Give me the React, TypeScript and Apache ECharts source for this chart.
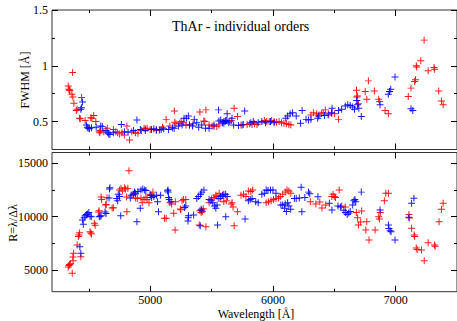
import React, { useEffect, useRef } from "react";
import * as echarts from "echarts";

// ---- data (wavelength [Å], value) ----
const fwhmRed: number[][] = [
  [4332,0.82],[4338,0.79],[4342,0.78],[4346,0.78],[4362,0.745],[4368,0.94],[4370,0.72],[4378,0.665],[4398,0.60],[4404,0.61],
  [4425,0.53],[4430,0.525],[4441,0.715],[4470,0.51],[4516,0.535],[4525,0.53],[4540,0.555],[4557,0.50],[4585,0.41],[4590,0.40],
  [4596,0.42],[4622,0.41],[4650,0.44],[4700,0.43],[4720,0.41],[4735,0.40],[4751,0.39],[4770,0.40],[4789,0.38],[4810,0.46],
  [4832,0.335],[4850,0.41],[4880,0.40],[4900,0.395],[4930,0.42],[4950,0.44],[4960,0.435],[4975,0.44],[5000,0.43],[5050,0.42],
  [5100,0.45],[5130,0.52],[5160,0.46],[5197,0.595],[5200,0.495],[5210,0.48],[5240,0.485],[5252,0.50],[5270,0.49],[5292,0.47],
  [5320,0.47],[5350,0.48],[5405,0.585],[5437,0.505],[5445,0.50],[5454,0.605],[5480,0.47],[5505,0.46],[5520,0.455],[5543,0.455],
  [5560,0.47],[5600,0.50],[5615,0.51],[5627,0.505],[5645,0.50],[5660,0.51],[5684,0.62],[5711,0.545],[5740,0.47],[5760,0.475],
  [5790,0.475],[5810,0.48],[5830,0.475],[5850,0.48],[5870,0.475],[5930,0.51],[5950,0.50],[5970,0.50],[5990,0.51],[6010,0.50],
  [6030,0.495],[6050,0.50],[6070,0.49],[6090,0.485],[6110,0.48],[6130,0.475],[6146,0.47],[6310,0.56],[6330,0.58],[6357,0.57],
  [6375,0.56],[6395,0.575],[6410,0.58],[6427,0.605],[6455,0.57],[6480,0.575],[6503,0.57],[6535,0.52],[6681,0.78],[6683,0.72],
  [6690,0.73],[6697,0.66],[6752,0.77],[6765,0.70],[6778,0.865],[6827,0.775],[6862,0.70],[6870,0.68],[6914,0.60],[6941,0.57],
  [7103,0.725],[7125,0.80],[7155,0.86],[7162,0.875],[7168,1.0],[7172,0.99],[7205,1.045],[7232,1.23],[7265,0.955],[7313,0.985],
  [7318,0.97],[7351,0.775],[7373,0.685],[7387,0.65]
];

const fwhmBlue: number[][] = [
  [4435,0.61],[4440,0.625],[4449,0.675],[4480,0.47],[4488,0.45],[4495,0.44],[4505,0.435],[4522,0.445],[4560,0.45],[4597,0.46],
  [4610,0.455],[4640,0.42],[4655,0.40],[4662,0.39],[4672,0.385],[4700,0.40],[4765,0.475],[4790,0.41],[4820,0.405],[4865,0.42],
  [4892,0.515],[4920,0.43],[4960,0.42],[5011,0.43],[5030,0.435],[5050,0.43],[5075,0.425],[5089,0.43],[5110,0.435],[5150,0.43],
  [5181,0.445],[5195,0.44],[5230,0.46],[5260,0.47],[5276,0.53],[5295,0.53],[5311,0.55],[5320,0.47],[5345,0.46],[5359,0.52],
  [5380,0.49],[5395,0.45],[5420,0.47],[5450,0.44],[5480,0.44],[5520,0.47],[5557,0.605],[5560,0.505],[5575,0.515],[5590,0.49],
  [5600,0.485],[5610,0.50],[5620,0.51],[5627,0.57],[5640,0.49],[5667,0.53],[5680,0.47],[5720,0.465],[5750,0.47],[5770,0.595],
  [5820,0.49],[5840,0.50],[5880,0.49],[5910,0.50],[5940,0.49],[5980,0.50],[6010,0.49],[6105,0.53],[6120,0.55],[6140,0.57],
  [6160,0.58],[6190,0.55],[6225,0.485],[6238,0.60],[6270,0.52],[6290,0.515],[6310,0.52],[6365,0.53],[6373,0.55],[6420,0.555],
  [6450,0.56],[6478,0.58],[6482,0.62],[6535,0.60],[6560,0.61],[6590,0.64],[6610,0.65],[6630,0.645],[6650,0.63],[6665,0.61],
  [6683,0.69],[6690,0.65],[6700,0.62],[6720,0.545],[6873,0.65],[6940,0.745],[6950,0.77],[6960,0.79],[6995,0.90],[7125,0.615],
  [7140,0.60]
];

const resRed: number[][] = [
  [4332,5300],[4338,5450],[4342,5550],[4352,5600],[4365,4720],[4370,6240],[4372,5900],[4376,6600],[4405,7360],[4415,8150],
  [4421,8300],[4425,8500],[4435,6270],[4510,8600],[4516,8480],[4522,8400],[4545,9400],[4552,9200],[4578,10450],[4584,10550],
  [4600,11850],[4605,11600],[4635,11100],[4642,11150],[4648,11780],[4690,10820],[4700,10850],[4750,12500],[4762,12650],[4775,12400],
  [4790,12700],[4800,12600],[4808,11850],[4810,10470],[4818,12650],[4827,14300],[4860,12100],[4881,11750],[4895,11700],[4925,11750],
  [4935,11300],[4950,11600],[4965,11800],[4975,11600],[4990,11300],[5000,12100],[5010,12000],[5022,12300],[5116,9860],[5130,9860],
  [5160,11300],[5175,11200],[5192,10320],[5203,8760],[5205,11400],[5246,10720],[5250,10650],[5260,11500],[5272,11600],[5290,11600],
  [5400,9230],[5405,10550],[5415,10400],[5425,10500],[5432,10750],[5454,9070],[5480,11300],[5500,11650],[5520,11800],[5535,12000],
  [5545,11900],[5562,12200],[5575,11700],[5600,11400],[5620,11500],[5660,11200],[5668,11300],[5675,10900],[5684,9160],[5711,10470],
  [5740,12000],[5760,12100],[5780,11900],[5800,12400],[5820,12350],[5835,12500],[5945,11300],[5965,11400],[5985,11500],[6005,11600],
  [6025,11700],[6045,11750],[6060,11900],[6080,12100],[6100,12300],[6115,12500],[6130,12400],[6146,12200],[6305,11400],[6350,11200],
  [6382,11380],[6400,10820],[6430,11100],[6480,11900],[6490,12100],[6500,11900],[6510,11800],[6540,12500],[6560,11000],[6590,10900],
  [6680,10400],[6690,9900],[6697,9230],[6715,9500],[6723,10540],[6757,8760],[6765,9540],[6783,7830],[6833,8760],[6862,10000],
  [6868,9790],[6875,10400],[6908,11500],[6920,12200],[6941,12190],[7111,9880],[7108,10200],[7130,8920],[7151,8300],[7155,8150],
  [7168,7080],[7175,6950],[7211,6900],[7233,5900],[7265,7580],[7316,7360],[7322,7250],[7354,9540],[7373,10700],[7387,11260]
];

const resBlue: number[][] = [
  [4427,7200],[4435,6590],[4448,9700],[4455,9300],[4462,9900],[4470,10100],[4480,10200],[4490,10250],[4500,10400],[4510,10050],
  [4520,10000],[4585,10000],[4592,10050],[4600,10100],[4632,10450],[4640,10300],[4665,11750],[4668,12600],[4672,12700],[4728,11700],
  [4735,11500],[4740,12100],[4750,11900],[4760,10100],[4838,11750],[4845,12000],[4865,12100],[4872,12300],[4880,12200],[4892,9540],
  [4900,12350],[4919,10790],[4925,12500],[4940,12600],[4955,12500],[4965,12450],[5000,12000],[5012,11800],[5030,11900],[5050,12000],
  [5060,11400],[5068,10470],[5085,12000],[5140,12400],[5145,12500],[5148,12300],[5150,11800],[5155,11600],[5170,11400],[5280,10870],
  [5290,11000],[5308,9600],[5310,9900],[5312,10100],[5354,10160],[5380,11700],[5395,11900],[5410,12100],[5420,12300],[5438,12500],
  [5408,9160],[5415,10700],[5420,10600],[5480,11600],[5495,11500],[5510,11300],[5525,11000],[5535,10800],[5545,11100],[5549,9230],
  [5560,11700],[5575,11900],[5590,12000],[5600,12100],[5615,12100],[5616,10000],[5628,11900],[5773,9790],[5800,11500],[5815,11600],
  [5830,11700],[5860,11400],[5880,11300],[5910,12100],[5930,12200],[5945,12500],[5960,12450],[5980,12500],[6000,12500],[6025,12200],
  [6065,11100],[6080,11100],[6095,10800],[6100,11200],[6110,10500],[6120,11300],[6130,11000],[6145,10700],[6175,11700],[6190,11700],
  [6215,11750],[6230,12750],[6236,10470],[6260,11800],[6290,12300],[6300,12150],[6367,11870],[6460,11260],[6481,10630],[6530,11000],
  [6550,10900],[6578,10600],[6590,10400],[6605,10200],[6618,10350],[6630,10500],[6650,11100],[6660,11500],[6668,11600],[6675,11400],
  [6720,12300],[6873,10630],[6941,9230],[6945,8900],[6955,8700],[6963,8600],[6995,7830],[7108,9950],[7130,11260],[7149,11720]
];

const xMajor = [5000, 6000, 7000];
const xMinor = [4500, 5500, 6500, 7500];
const yTopMajor = [0.5, 1, 1.5];
const yTopMinor = [0.75, 1.25];
const yBotMajor = [5000, 10000, 15000];
const yBotMinor = [7500, 12500];

const FONT = '"Liberation Serif", "Times New Roman", serif';
const PLUS = "path://M0.43,0 L0.57,0 L0.57,0.43 L1,0.43 L1,0.57 L0.57,0.57 L0.57,1 L0.43,1 L0.43,0.57 L0,0.57 L0,0.43 L0.43,0.43 Z";

function xAx(gridIndex: number, position: string, ticks: number[], len: number, labels: boolean) {
  return {
    type: "value", gridIndex, position, min: 4200, max: 7500, scale: true,
    axisLine: { show: false },
    axisTick: { show: true, inside: true, length: len, customValues: ticks, lineStyle: { color: "#000", width: 1 } },
    axisLabel: labels
      ? { show: true, customValues: ticks, margin: 2, color: "#000", fontSize: 12, fontFamily: FONT, formatter: (v: number) => String(v) }
      : { show: false },
    splitLine: { show: false },
  };
}

function yAx(gridIndex: number, position: string, min: number, max: number, ticks: number[], len: number, labels: boolean) {
  return {
    type: "value", gridIndex, position, min, max, scale: true,
    axisLine: { show: false },
    axisTick: { show: true, inside: true, length: len, customValues: ticks, lineStyle: { color: "#000", width: 1 } },
    axisLabel: labels
      ? { show: true, customValues: ticks, margin: 4, color: "#000", fontSize: 12, fontFamily: FONT, formatter: (v: number) => String(v) }
      : { show: false },
    splitLine: { show: false },
  };
}

function sc(name: string, data: number[][], color: string, axisIndex: number) {
  return {
    type: "scatter", name, data, xAxisIndex: axisIndex, yAxisIndex: axisIndex,
    symbol: PLUS, symbolSize: 7, itemStyle: { color, opacity: 0.9 }, silent: true,
  };
}

export default function App() {
  const ref = useRef<HTMLDivElement>(null);
  useEffect(() => {
    if (!ref.current) return;
    const chart = echarts.init(ref.current, undefined, { renderer: "svg" });
    chart.setOption({
      animation: false,
      backgroundColor: "#fff",
      grid: [
        { left: 52, top: 10, width: 407, height: 139.5, show: true, borderColor: "#333", borderWidth: 1, backgroundColor: "transparent" },
        { left: 52, top: 152.5, width: 407, height: 139.2, show: true, borderColor: "#333", borderWidth: 1, backgroundColor: "transparent" },
      ],
      xAxis: [
        xAx(0, "bottom", xMajor, 6, false),
        xAx(0, "bottom", xMinor, 3, false),
        xAx(0, "top", xMajor, 6, false),
        xAx(0, "top", xMinor, 3, false),
        xAx(1, "bottom", xMajor, 6, true),
        xAx(1, "bottom", xMinor, 3, false),
        xAx(1, "top", xMajor, 6, false),
        xAx(1, "top", xMinor, 3, false),
      ],
      yAxis: [
        yAx(0, "left", 0.25, 1.5, yTopMajor, 6, true),
        yAx(0, "left", 0.25, 1.5, yTopMinor, 3, false),
        yAx(0, "right", 0.25, 1.5, yTopMajor, 6, false),
        yAx(0, "right", 0.25, 1.5, yTopMinor, 3, false),
        yAx(1, "left", 3000, 16000, yBotMajor, 6, true),
        yAx(1, "left", 3000, 16000, yBotMinor, 3, false),
        yAx(1, "right", 3000, 16000, yBotMajor, 6, false),
        yAx(1, "right", 3000, 16000, yBotMinor, 3, false),
      ],
      series: [
        sc("FWHM red", fwhmRed, "#ff0000", 0),
        sc("FWHM blue", fwhmBlue, "#0000ff", 0),
        sc("R red", resRed, "#ff0000", 4),
        sc("R blue", resBlue, "#0000ff", 4),
      ],
      graphic: [
        { type: "text", x: 172, y: 26, style: { text: "ThAr - individual orders", fontSize: 14, fontFamily: FONT, fill: "#000", align: "left", verticalAlign: "middle" } },
        { type: "text", x: 25, y: 80, rotation: Math.PI / 2, style: { text: "FWHM [Å]", fontSize: 12, fontFamily: FONT, fill: "#000", align: "center", verticalAlign: "middle" } },
        { type: "text", x: 12.5, y: 223, rotation: Math.PI / 2, style: { text: "R=λ/Δλ", fontSize: 12, fontFamily: FONT, fill: "#000", align: "center", verticalAlign: "middle" } },
        { type: "text", x: 256, y: 314, style: { text: "Wavelength [Å]", fontSize: 12, fontFamily: FONT, fill: "#000", align: "center", verticalAlign: "middle" } },
      ],
    });
    return () => chart.dispose();
  }, []);
  return <div ref={ref} style={{ position: "fixed", left: 0, top: 0, width: 457, height: 321 }} />;
}
